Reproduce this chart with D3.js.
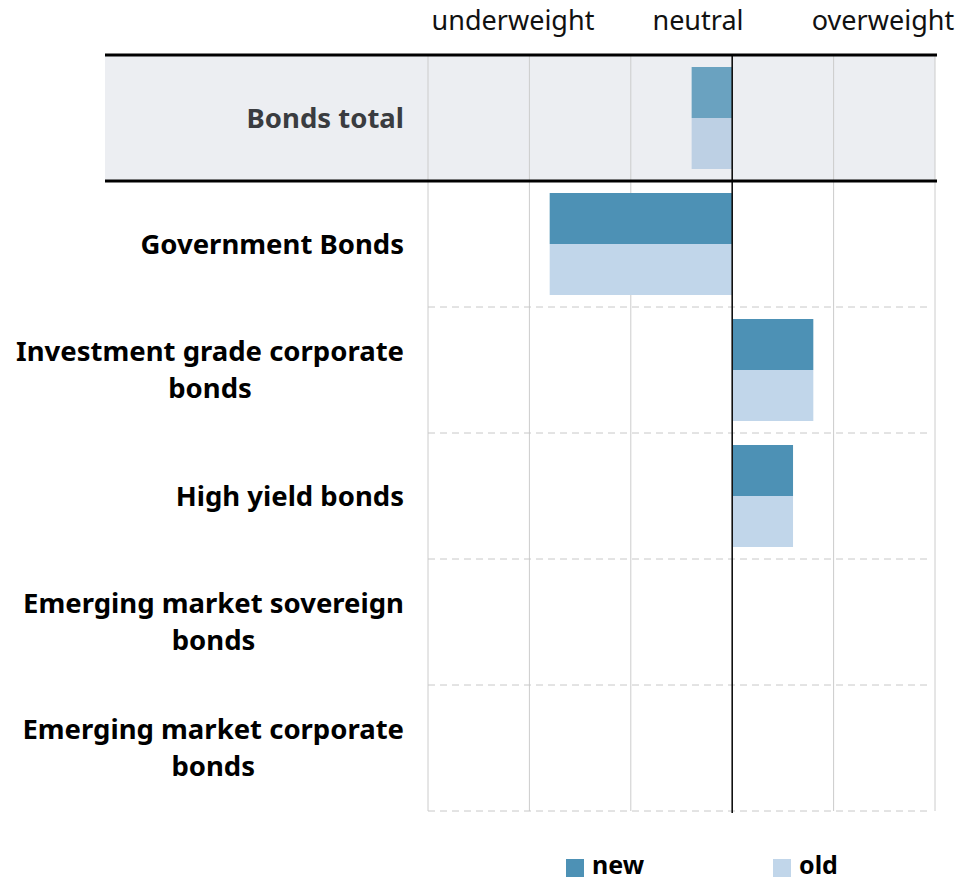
<!DOCTYPE html>
<html>
<head>
<meta charset="utf-8">
<script src="https://cdn.jsdelivr.net/npm/d3@7"></script>
<style>
  body { margin: 0; background: #fff; }
  text { font-family: "Noto Sans", "Open Sans", sans-serif; }
</style>
</head>
<body>
<script>
const w = 958;
const h = 880;

// data
const categories = [
  "Bonds total",
  "Government Bonds",
  "Investment grade corporate|bonds",
  "High yield bonds",
  "Emerging market sovereign|bonds",
  "Emerging market corporate|bonds"
];
const newValues = [-0.4, -1.8, 0.8, 0.6, 0, 0];
const oldValues = [-0.4, -1.8, 0.8, 0.6, 0, 0];
const headerLabels = ["underweight", "neutral", "overweight"];
const gridTicks = [-3, -2, -1, 0, 1, 2];
const seriesNames = ["new", "old"];

const newColor = "#4d91b5";
const oldColor = "#c1d6ea";

let svg = d3.select("body")
  .append("svg")
  .attr("width", w)
  .attr("height", h);

let xScale = d3.scaleLinear()
  .domain([-3, 2])
  .range([428, 935]);

let yScale = d3.scaleBand()
  .domain(categories)
  .range([55, 811])
  .paddingInner(0)
  .paddingOuter(0);

let headerScale = d3.scalePoint()
  .domain(headerLabels)
  .range([513, 883]);

// grey band behind the total row
let first = categories[0];
svg.append("rect")
  .attr("x", 105)
  .attr("y", yScale(first))
  .attr("width", 935 - 105)
  .attr("height", yScale.bandwidth())
  .attr("fill", "#eceef2");

// vertical grid lines
svg.append("g")
  .selectAll("line")
  .data(gridTicks.filter(d => d !== 0))
  .enter()
  .append("line")
  .attr("x1", d => xScale(d))
  .attr("x2", d => xScale(d))
  .attr("y1", 55)
  .attr("y2", 811)
  .attr("stroke", "#cccccc")
  .attr("stroke-width", 1);

// dashed row separators below the total row
svg.append("g")
  .selectAll("line")
  .data(categories.slice(2).concat(["__end"]))
  .enter()
  .append("line")
  .attr("x1", xScale(-3))
  .attr("x2", 930)
  .attr("y1", d => d === "__end" ? 811 : yScale(d))
  .attr("y2", d => d === "__end" ? 811 : yScale(d))
  .attr("stroke", "#c8c8c8")
  .attr("stroke-width", 1)
  .attr("stroke-dasharray", "7,5");

// bars
let barPad = 12;
let barH = (yScale.bandwidth() - 2 * barPad) / 2;
let rows = categories.map((c, i) => ({ c: c, i: i, nv: newValues[i], ov: oldValues[i] }));

let bars = svg.append("g");
bars.selectAll("rect.new")
  .data(rows)
  .enter()
  .append("rect")
  .attr("class", "new")
  .attr("x", d => xScale(Math.min(0, d.nv)))
  .attr("y", d => yScale(d.c) + barPad)
  .attr("width", d => Math.abs(xScale(d.nv) - xScale(0)))
  .attr("height", barH)
  .attr("fill", newColor)
  .attr("opacity", d => d.i === 0 ? 0.82 : 1);

bars.selectAll("rect.old")
  .data(rows)
  .enter()
  .append("rect")
  .attr("class", "old")
  .attr("x", d => xScale(Math.min(0, d.ov)))
  .attr("y", d => yScale(d.c) + barPad + barH)
  .attr("width", d => Math.abs(xScale(d.ov) - xScale(0)))
  .attr("height", barH)
  .attr("fill", d => d.i === 0 ? "#bdd0e4" : oldColor);

// neutral line
svg.append("line")
  .attr("x1", xScale(0))
  .attr("x2", xScale(0))
  .attr("y1", 55)
  .attr("y2", 813)
  .attr("stroke", "#111")
  .attr("stroke-width", 1.6);

// thick lines around total row
[yScale(first), yScale(first) + yScale.bandwidth()].forEach(y => {
  svg.append("line")
    .attr("x1", 105)
    .attr("x2", 937)
    .attr("y1", y)
    .attr("y2", y)
    .attr("stroke", "#000")
    .attr("stroke-width", 3);
});

// header labels
svg.append("g")
  .selectAll("text")
  .data(headerLabels)
  .enter()
  .append("text")
  .attr("x", d => headerScale(d))
  .attr("y", 30)
  .attr("text-anchor", "middle")
  .attr("font-size", 27)
  .attr("fill", "#111")
  .text(d => d);

// category labels, right aligned block, lines centred in block
let labelRight = 404;
let lineGap = 37;
categories.forEach((c, i) => {
  let lines = c.split("|");
  let g = svg.append("g");
  let cy = yScale(c) + yScale.bandwidth() / 2;
  let texts = lines.map((t, k) => g.append("text")
    .attr("y", cy + (k - (lines.length - 1) / 2) * lineGap)
    .attr("dy", "0.35em")
    .attr("font-size", 27.5)
    .attr("font-weight", "bold")
    .attr("fill", i === 0 ? "#3a3c40" : "#000")
    .text(t));
  let maxW = d3.max(texts, t => t.node().getComputedTextLength());
  texts.forEach(t => {
    t.attr("text-anchor", "middle").attr("x", labelRight - maxW / 2);
  });
});

// legend
let legendX = d3.scalePoint()
  .domain(seriesNames)
  .range([566, 773]);
let legend = svg.append("g")
  .selectAll("g")
  .data(seriesNames)
  .enter()
  .append("g")
  .attr("transform", d => "translate(" + legendX(d) + ",859)");
legend.append("rect")
  .attr("width", 18)
  .attr("height", 18)
  .attr("fill", (d, i) => i === 0 ? newColor : oldColor);
legend.append("text")
  .attr("x", 26)
  .attr("y", 15)
  .attr("font-size", 25)
  .attr("font-weight", "bold")
  .attr("fill", "#000")
  .text(d => d);
</script>
</body>
</html>
